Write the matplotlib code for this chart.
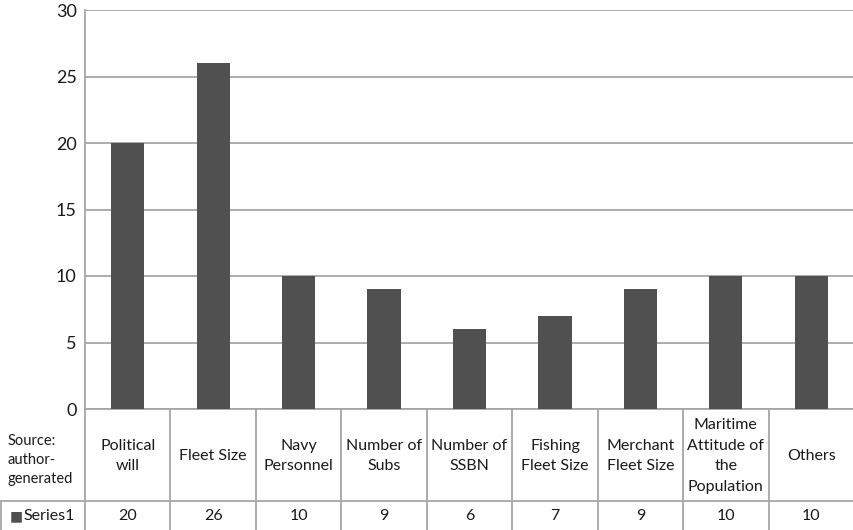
import matplotlib
matplotlib.use("Agg")
import matplotlib.pyplot as plt
import matplotlib.transforms as mtransforms
from matplotlib.lines import Line2D

plt.rcParams['font.family'] = ['Lato', 'DejaVu Sans']

categories = [
    "Political\nwill", "Fleet Size", "Navy\nPersonnel", "Number of\nSubs",
    "Number of\nSSBN", "Fishing\nFleet Size", "Merchant\nFleet Size",
    "Maritime\nAttitude of\nthe\nPopulation", "Others",
]
series_name = "Series1"
values = [20, 26, 10, 9, 6, 7, 9, 10, 10]
y_ticks = [0, 5, 10, 15, 20, 25, 30]
source_note = "Source:\nauthor-\ngenerated"

W, H = 854, 530
fig = plt.figure(figsize=(W / 100, H / 100), dpi=100)

# pixel geometry of the plotting area
left_px, right_px, top_px, zero_px = 85, 854, 10, 409
row_px = 501
ax = fig.add_axes([left_px / W, 1 - zero_px / H,
                   (right_px - left_px) / W, (zero_px - top_px) / H])

grid_col = "#a6a6a6"
bar_col = "#505050"
text_col = "#1a1a1a"

x = list(range(len(categories)))
ax.bar(x, values, width=0.39, color=bar_col, zorder=3)
ax.set_xlim(-0.5, len(categories) - 0.5)
ax.set_ylim(0, 30)
ax.set_yticks(y_ticks)
ax.set_yticklabels([str(t) for t in y_ticks], fontsize=13, color=text_col)
ax.set_xticks([])
ax.tick_params(axis='y', length=0, pad=6)
ax.yaxis.grid(True, color=grid_col, linewidth=1.3, zorder=0)
for s in ["top", "right"]:
    ax.spines[s].set_visible(False)
ax.spines["left"].set_color(grid_col)
ax.spines["left"].set_linewidth(1.3)
ax.spines["bottom"].set_color(grid_col)
ax.spines["bottom"].set_linewidth(1.3)

# data table below the chart: x in data units, y in figure pixels
fig_px = mtransforms.Affine2D().scale(1 / W, -1 / H).translate(0, 1) + fig.transFigure
tx = mtransforms.blended_transform_factory(ax.transData, fig_px)

line_kw = dict(color=grid_col, linewidth=1.3, clip_on=False)
# vertical cell borders
for i in range(len(categories)):
    fig.add_artist(Line2D([i - 0.5, i - 0.5], [zero_px, H + 2], transform=tx, **line_kw))
# horizontal divider between header row and values row
fig.add_artist(Line2D([0, W], [row_px, row_px], transform=fig_px, **line_kw))
# left border of the series cell
fig.add_artist(Line2D([1, 1], [row_px, H + 2], transform=fig_px, **line_kw))

header_mid = (zero_px + row_px) / 2 + 1
value_mid = (row_px + H) / 2 + 0.5
for i, (cat, v) in enumerate(zip(categories, values)):
    fig.text(i, header_mid, cat, transform=tx, ha="center", va="center",
             fontsize=11.5, color=text_col, linespacing=1.58)
    fig.text(i, value_mid, str(v), transform=tx, ha="center", va="center",
             fontsize=11.5, color=text_col)

fig.text(8, header_mid + 4, source_note, transform=fig_px, ha="left", va="center",
         fontsize=10.5, color=text_col, linespacing=1.45)
fig.text(10, value_mid, "\u25a0", transform=fig_px, ha="left", va="center",
         fontsize=10, color=bar_col, family=["DejaVu Sans"])
fig.text(23, value_mid, series_name, transform=fig_px, ha="left", va="center",
         fontsize=11.5, color=text_col)

fig.savefig("out.png", dpi=100)
